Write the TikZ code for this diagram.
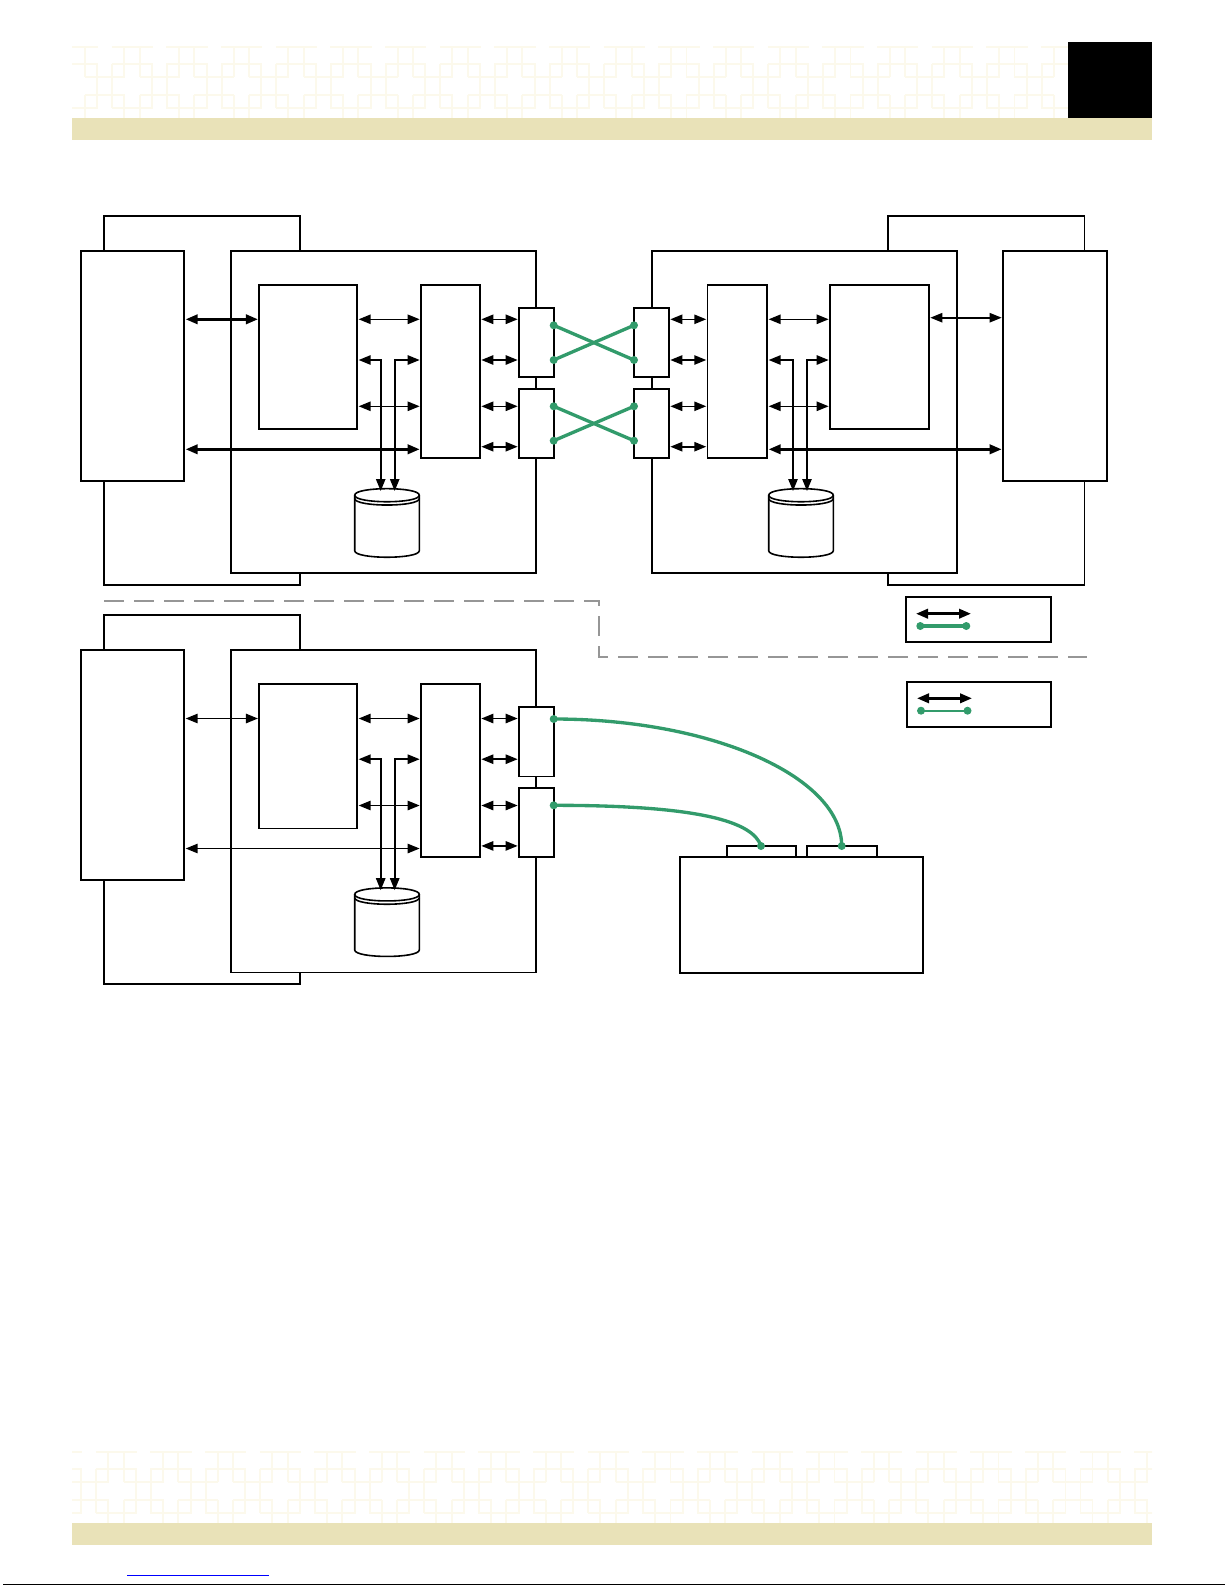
\documentclass[tikz,border=0pt]{standalone}
\usetikzlibrary{arrows.meta}
\definecolor{bandtan}{RGB}{233,226,184}
\definecolor{trellistan}{RGB}{252,249,236}
\definecolor{fibregreen}{RGB}{50,155,107}
\definecolor{rulegrey}{RGB}{150,150,150}
\tikzset{
    box/.style 2 args={draw,fill=white,line width=1.3pt,inner sep=0pt,outer sep=0pt,
        minimum width=#1*0.75pt,minimum height=#2*0.75pt},
    link/.style={line width=#1,{Triangle[length=9pt,width=7pt]}-{Triangle[length=9pt,width=7pt]},
        shorten <=1pt,shorten >=1pt},
    link/.default=1.2pt,
    drop/.style={line width=1.2pt,{Triangle[length=9pt,width=7pt]}-{Triangle[length=9pt,width=7pt]},shorten <=1pt},
    fibre/.style={draw=fibregreen,line width=#1},
    fibre/.default=2.5pt,
    dot/.style={circle,fill=fibregreen,inner sep=0pt,minimum size=6pt},
    trellisline/.style={draw=trellistan,line width=1.3pt},
    drum/.pic={
        \draw[line width=1.2pt,fill=white] (-32.3,0) .. controls (-32.3,-8.7) and (32.3,-8.7) .. (32.3,0)
            -- (32.3,55.5) .. controls (32.3,64.2) and (-32.3,64.2) .. (-32.3,55.5) -- cycle;
        \draw[line width=1.2pt] (-32.3,0) .. controls (-32.3,8.7) and (32.3,8.7) .. (32.3,0);
        \draw[line width=1.2pt] (-32.3,3.3) .. controls (-32.3,12) and (32.3,12) .. (32.3,3.3);
    }
}
% Row of trellis tiles, from the left end x0 to the clip
\newcommand{\trellis}[3]{
    \begin{scope}
        \clip (72,#2-1) rectangle (#3,#2+72);
        \foreach \k in {-2,...,20} {
            \begin{scope}[shift={(#1+\k*54.67,#2)}]
                \draw[trellisline] (26.7,0) -- (68,0);
                \draw[trellisline] (26.7,17.3) -- (68,17.3);
                \draw[trellisline] (26.7,61.6) -- (68,61.6);
                \draw[trellisline] (0,30.6) -- (40,30.6);
                \draw[trellisline] (0,48.3) -- (40,48.3);
                \draw[trellisline] (0,0) -- (0,30.6);
                \draw[trellisline] (0,48.3) -- (0,73);
                \draw[trellisline] (39.3,0) -- (39.3,30.6);
                \draw[trellisline] (39.3,48.3) -- (39.3,73);
                \draw[trellisline] (12.3,17.3) -- (12.3,61.6);
                \draw[trellisline] (27.3,17.3) -- (27.3,61.6);
            \end{scope}
        }
    \end{scope}
}
\begin{document}
\begin{tikzpicture}[x=0.75pt,y=-0.75pt]
        \useasboundingbox (0,0) rectangle (1225,1585);
        % Page header and footer
        \trellis{85}{46.7}{1068}
        \trellis{69}{1451.7}{1152}
        \fill[bandtan] (72,118.3) rectangle (1152,140);
        \fill[bandtan] (72,1523) rectangle (1152,1545);
        \fill[black] (1068.3,42) rectangle (1152.3,118.3);
        \draw[blue,line width=0.8pt] (127,1575.3) -- (268.7,1575.3);
        \draw[black,line width=1pt] (3,1584.6) -- (1225,1584.6);
        % Left sites, upper and lower
        \foreach \s/\dy/\lw in {u/0/2pt,l/399.2/1.2pt} {
            \begin{scope}[yshift=-\dy*0.75pt]
                \coordinate (rowa) at (0,319.3);
                \coordinate (rowb) at (0,360);
                \coordinate (rowc) at (0,406.3);
                \coordinate (rowd) at (0,446.7);
                \coordinate (rowe) at (0,449.3);
                \node (wrap\s) [box={196.3}{369.3}] at (201.85,400.35) {};
                \node (host\s) [box={103.6}{230.3}] at (132.5,365.85) {};
                \node (site\s) [box={304.7}{322.6}] at (383.35,412) {};
                \node (cpu\s) [box={98}{144.3}] at (308.3,357.15) {};
                \node (bus\s) [box={59}{172.7}] at (450.5,371.35) {};
                \node (porta\s) [box={34.7}{69.6}] at (536.35,342.5) {};
                \node (portb\s) [box={34.7}{69.3}] at (536.35,423.35) {};
                \pic at (387,495.2) {drum};
                \coordinate (tapa\s) at (380.7,491);
                \coordinate (tapb\s) at (394.7,491);
                % Arrows between the boxes
                \draw[link=\lw] (host\s.east |- rowa) -- (cpu\s.west |- rowa);
                \draw[link=\lw] (host\s.east |- rowe) -- (bus\s.west |- rowe);
                \draw[link] (cpu\s.east |- rowa) -- (bus\s.west |- rowa);
                \draw[link] (cpu\s.east |- rowc) -- (bus\s.west |- rowc);
                \draw[drop] (cpu\s.east |- rowb) -| (tapa\s);
                \draw[drop] (bus\s.west |- rowb) -| (tapb\s);
                \draw[link] (bus\s.east |- rowa) -- (porta\s.west |- rowa);
                \draw[link] (bus\s.east |- rowb) -- (porta\s.west |- rowb);
                \draw[link] (bus\s.east |- rowc) -- (portb\s.west |- rowc);
                \draw[link] (bus\s.east |- rowd) -- (portb\s.west |- rowd);
            \end{scope}
        }
        % Right site
        \coordinate (rowa) at (0,319.3);
        \coordinate (rowb) at (0,360);
        \coordinate (rowc) at (0,406.3);
        \coordinate (rowd) at (0,446.7);
        \coordinate (rowe) at (0,449.3);
        \coordinate (rowf) at (0,317.7);
        \node (wrapr) [box={196.5}{369.3}] at (986.25,400.35) {};
        \node (hostr) [box={104}{230.3}] at (1055,365.85) {};
        \node (siter) [box={305}{322.6}] at (804.5,412) {};
        \node (cpur) [box={99}{144.3}] at (879.5,357.15) {};
        \node (busr) [box={59.7}{172.7}] at (737.45,371.35) {};
        \node (portar) [box={35}{69.6}] at (651.5,342.5) {};
        \node (portbr) [box={35}{69.3}] at (651.5,423.35) {};
        \pic at (801,495.2) {drum};
        \coordinate (tapar) at (793,491);
        \coordinate (tapbr) at (807,491);
        \draw[link] (cpur.east |- rowf) -- (hostr.west |- rowf);
        \draw[link=2pt] (busr.east |- rowe) -- (hostr.west |- rowe);
        \draw[link] (busr.east |- rowa) -- (cpur.west |- rowa);
        \draw[link] (busr.east |- rowc) -- (cpur.west |- rowc);
        \draw[drop] (busr.east |- rowb) -| (tapar);
        \draw[drop] (cpur.west |- rowb) -| (tapbr);
        \draw[link] (portar.east |- rowa) -- (busr.west |- rowa);
        \draw[link] (portar.east |- rowb) -- (busr.west |- rowb);
        \draw[link] (portbr.east |- rowc) -- (busr.west |- rowc);
        \draw[link] (portbr.east |- rowd) -- (busr.west |- rowd);
        % Crossed green links
        \node (dota) [dot] at (553.7,325.3) {};
        \node (dotb) [dot] at (553.7,360) {};
        \node (dotc) [dot] at (553.7,406.3) {};
        \node (dotd) [dot] at (553.7,440.7) {};
        \node (dote) [dot] at (634,325.3) {};
        \node (dotf) [dot] at (634,360) {};
        \node (dotg) [dot] at (634,406.3) {};
        \node (doth) [dot] at (634,440.7) {};
        \draw[fibre] (dota.center) -- (dotf.center);
        \draw[fibre] (dotb.center) -- (dote.center);
        \draw[fibre] (dotc.center) -- (doth.center);
        \draw[fibre] (dotd.center) -- (dotg.center);
        % Dashed divider
        \coordinate (dasha) at (104,601);
        \coordinate (dashb) at (598.6,601);
        \coordinate (dashc) at (598.6,656.7);
        \coordinate (dashd) at (1087,656.7);
        \draw[rulegrey,line width=1.4pt,dash pattern=on 15pt off 7.5pt] (dasha) -- (dashb) -- (dashc) -- (dashd);
        % Keys
        \node (keya) [box={145.3}{45.3}] at (978.35,619.35) {};
        \node (keyb) [box={144.3}{45}] at (978.85,704.2) {};
        \coordinate (keyaw) at (916,613.7);
        \coordinate (keyae) at (971,613.7);
        \coordinate (keybw) at (917,698.3);
        \coordinate (keybe) at (972,698.3);
        \draw[link=2pt,shorten <=0pt,shorten >=0pt] (keyaw) -- (keyae);
        \draw[link=2pt,shorten <=0pt,shorten >=0pt] (keybw) -- (keybe);
        \node (keydota) [dot] at (920.3,626) {};
        \node (keydotb) [dot] at (966.3,626) {};
        \node (keydotc) [dot] at (921,710.7) {};
        \node (keydotd) [dot] at (967.5,710.7) {};
        \draw[fibre] (keydota.center) -- (keydotb.center);
        \draw[fibre=1.8pt] (keydotc.center) -- (keydotd.center);
        % Storage unit and its curved links
        \node (taba) [box={69}{11.6}] at (761.5,851.5) {};
        \node (tabb) [box={70}{11.6}] at (841.7,851.5) {};
        \node (store) [box={243.3}{115.7}] at (801.65,915.15) {};
        \node (dotp) [dot] at (553.7,719) {};
        \node (dotq) [dot] at (553.7,805.3) {};
        \node (dotr) [dot] at (761,846) {};
        \node (dots) [dot] at (841.7,846) {};
        \draw[fibre] (dotp.center) .. controls (712,719) and (841.7,776.7) .. (dots.center);
        \draw[fibre] (dotq.center) .. controls (700,805.3) and (753,821.7) .. (dotr.center);
    \end{tikzpicture}
\end{document}
